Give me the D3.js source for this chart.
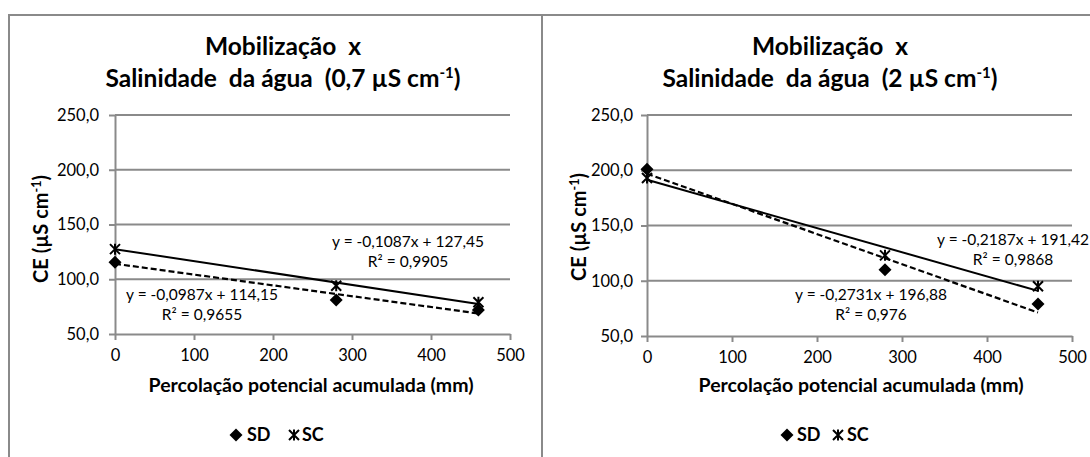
<!DOCTYPE html>
<html><head><meta charset="utf-8">
<script src="https://cdn.jsdelivr.net/npm/d3@7"></script>
<style>
body{margin:0;background:#fff;}
svg{display:block;font-family:Lato, "Open Sans", sans-serif;}
text{white-space:pre;}
</style>
</head><body>
<svg id="c" width="1090" height="457"></svg>
<script>
// ---- data ----
const percolation = [0, 280, 460];
const sdLow = [115.5, 81, 72];
const scLow = [127.5, 94, 79];
const sdHigh = [201, 110, 79];
const scHigh = [193, 123, 95];
const fitSdLow = [-0.0987, 114.15];
const fitScLow = [-0.1087, 127.45];
const fitSdHigh = [-0.2731, 196.88];
const fitScHigh = [-0.2187, 191.42];
const eqSdLow = ["y = -0,0987x + 114,15", "R² = 0,9655"];
const eqScLow = ["y = -0,1087x + 127,45", "R² = 0,9905"];
const eqSdHigh = ["y = -0,2731x + 196,88", "R² = 0,976"];
const eqScHigh = ["y = -0,2187x + 191,42", "R² = 0,9868"];
const yTickValues = [50, 100, 150, 200, 250];
const xTickValues = [0, 100, 200, 300, 400, 500];
const seriesNames = ["SD", "SC"];
const titleLine1 = "Mobilização  x";
const titleLine2 = ["Salinidade  da água  (0,7 µS cm", "Salinidade  da água  (2 µS cm"];
const xTitle = "Percolação potencial acumulada (mm)";
const yTitle = "CE (µS cm";

// ---- layout ----
const panels = [
  {sd: sdLow, sc: scLow, fitSd: fitSdLow, fitSc: fitScLow, eqSd: eqSdLow, eqSc: eqScLow,
   title2: titleLine2[0], x0: 115, x1: 510, yTop: 115, yBot: 334, titleX: 283, tickGap: 16,
   yTitleX: 41, yTitleY: 229, xTitleX: 311, eqScPos: [408, 242], eqSdPos: [202, 295],
   legend: [236, 247, 294, 302]},
  {sd: sdHigh, sc: scHigh, fitSd: fitSdHigh, fitSc: fitScHigh, eqSd: eqSdHigh, eqSc: eqScHigh,
   title2: titleLine2[1], x0: 647, x1: 1072, yTop: 115, yBot: 336, titleX: 830, tickGap: 14,
   yTitleX: 579, yTitleY: 227, xTitleX: 861, eqScPos: [1013, 240], eqSdPos: [871, 295],
   legend: [787, 797, 838, 847]}
];

const svg = d3.select("#c");
const gray = "#8a8a8a";

// panel borders
svg.append("path").attr("d", "M9,470 V15 H1100").attr("fill", "none").attr("stroke", gray).attr("stroke-width", 2);
svg.append("line").attr("x1", 542).attr("x2", 542).attr("y1", 15).attr("y2", 470).attr("stroke", gray).attr("stroke-width", 2);

const diamond = s => `M0,${-s}L${s},0L0,${s}L${-s},0Z`;
const star = s => `M${-s},${-s}L${s},${s}M${-s},${s}L${s},${-s}M0,${-s*1.1}L0,${s*1.1}`;
const fmtY = d => d3.format(".1f")(d).replace(".", ",");

panels.forEach(p => {
  const g = svg.append("g");
  const x = d3.scaleLinear().domain([0, 500]).range([p.x0, p.x1]);
  const y = d3.scaleLinear().domain([50, 250]).range([p.yBot, p.yTop]);

  // title
  const t = g.append("text").attr("text-anchor", "middle").attr("font-weight", "bold").attr("font-size", 24.5).attr("fill", "#000");
  t.append("tspan").attr("x", p.titleX).attr("y", 55).text(titleLine1);
  const t2 = g.append("text").attr("text-anchor", "middle").attr("font-weight", "bold").attr("font-size", 24.5).attr("fill", "#000")
    .attr("x", p.titleX).attr("y", 87);
  t2.append("tspan").text(p.title2);
  t2.append("tspan").attr("font-size", 15).attr("dy", -9).text("-1");
  t2.append("tspan").attr("dy", 9).text(")");

  // gridlines
  g.append("g").selectAll("line").data(yTickValues.filter(v => v !== 50)).join("line")
    .attr("x1", p.x0).attr("x2", p.x1).attr("y1", d => y(d)).attr("y2", d => y(d))
    .attr("stroke", gray).attr("stroke-width", 2);

  // y axis
  const ya = g.append("g").attr("transform", `translate(${p.x0},0)`)
    .call(d3.axisLeft(y).tickValues(yTickValues).tickSize(6).tickSizeOuter(0).tickPadding(p.tickGap - 6).tickFormat(fmtY));
  ya.selectAll("path,line").attr("stroke", gray).attr("stroke-width", 2);
  ya.selectAll("text").attr("font-size", 16.5).attr("fill", "#000").attr("font-family", "Lato");

  // x axis
  const xa = g.append("g").attr("transform", `translate(0,${p.yBot})`)
    .call(d3.axisBottom(x).tickValues(xTickValues).tickSize(6).tickSizeOuter(0).tickPadding(9).tickFormat(d => d));
  xa.selectAll("path,line").attr("stroke", gray).attr("stroke-width", 2);
  xa.selectAll("text").attr("font-size", 16.5).attr("fill", "#000").attr("font-family", "Lato");

  // axis titles
  g.append("text").attr("x", p.xTitleX).attr("y", 385).attr("dy", "0.35em").attr("text-anchor", "middle")
    .attr("font-weight", "bold").attr("font-size", 19.5).text(xTitle);
  const yt = g.append("text").attr("transform", `translate(${p.yTitleX},${p.yTitleY}) rotate(-90)`)
    .attr("text-anchor", "middle").attr("dy", "0.35em").attr("font-weight", "bold").attr("font-size", 20);
  yt.append("tspan").text(yTitle);
  yt.append("tspan").attr("font-size", 12.5).attr("dy", -7).text("-1");
  yt.append("tspan").attr("dy", 7).text(")");

  // trend lines
  const xr = [percolation[0], percolation[percolation.length - 1]];
  const line = d3.line().x(d => x(d[0])).y(d => y(d[1]));
  g.append("path").datum(xr.map(v => [v, p.fitSc[0] * v + p.fitSc[1]])).attr("d", line)
    .attr("stroke", "#000").attr("stroke-width", 2).attr("fill", "none");
  g.append("path").datum(xr.map(v => [v, p.fitSd[0] * v + p.fitSd[1]])).attr("d", line)
    .attr("stroke", "#000").attr("stroke-width", 2.2).attr("stroke-dasharray", "6,3").attr("fill", "none");

  // markers
  g.append("g").selectAll("path").data(percolation.map((v, i) => [v, p.sd[i]])).join("path")
    .attr("transform", d => `translate(${x(d[0])},${y(d[1])})`).attr("d", diamond(6.5)).attr("fill", "#000");
  g.append("g").selectAll("path").data(percolation.map((v, i) => [v, p.sc[i]])).join("path")
    .attr("transform", d => `translate(${x(d[0])},${y(d[1])})`).attr("d", star(5))
    .attr("stroke", "#000").attr("stroke-width", 2).attr("fill", "none");

  // equations
  [[p.eqSc, p.eqScPos], [p.eqSd, p.eqSdPos]].forEach(([lbl, pos]) => {
    lbl.forEach((s, i) => {
      g.append("text").attr("x", pos[0]).attr("y", pos[1] + i * 20).attr("dy", "0.35em")
        .attr("text-anchor", "middle").attr("font-size", 15.5).attr("fill", "#000").text(s);
    });
  });

  // legend
  const ly = 435;
  g.append("path").attr("transform", `translate(${p.legend[0]},${ly})`).attr("d", diamond(6.5)).attr("fill", "#000");
  g.append("text").attr("x", p.legend[1]).attr("y", ly).attr("dy", "0.35em").attr("font-weight", "bold").attr("font-size", 18).text(seriesNames[0]);
  g.append("path").attr("transform", `translate(${p.legend[2]},${ly})`).attr("d", star(5))
    .attr("stroke", "#000").attr("stroke-width", 2).attr("fill", "none");
  g.append("text").attr("x", p.legend[3]).attr("y", ly).attr("dy", "0.35em").attr("font-weight", "bold").attr("font-size", 18).text(seriesNames[1]);
});
</script>
</body></html>
